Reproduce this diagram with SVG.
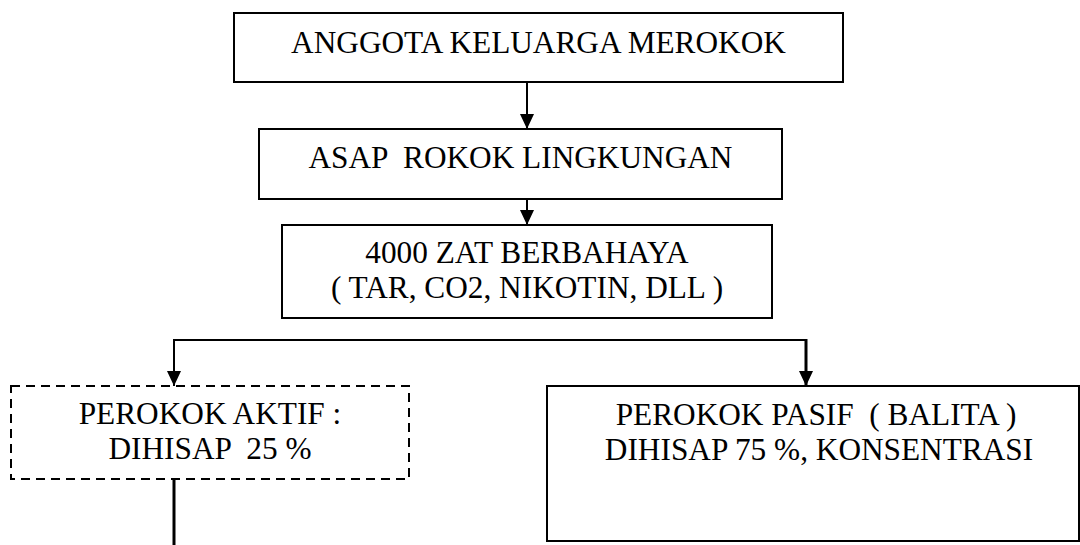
<svg xmlns="http://www.w3.org/2000/svg" width="1080" height="545" viewBox="0 0 1080 545">
<style>
.box{fill:#fff;stroke:#000;stroke-width:2}
.dash{fill:#fff;stroke:#000;stroke-width:2;stroke-dasharray:9,6}
.t{font-family:"Liberation Serif","Times New Roman",serif;font-size:31.3px;fill:#000;text-anchor:middle;white-space:pre}
.ln{fill:none;stroke:#000;stroke-width:2}
.lnb{fill:none;stroke:#000;stroke-width:3}
</style>
<defs>
<marker id="ah" markerUnits="userSpaceOnUse" markerWidth="16" markerHeight="16" viewBox="0 0 16 16" refX="15" refY="8" orient="auto">
<path d="M0,1 L15,8 L0,15 Z" fill="#000"/>
</marker>
</defs>
<rect width="1080" height="545" fill="#fff"/>
<g id="connectors">
<line class="ln" x1="527" y1="82" x2="527" y2="129" marker-end="url(#ah)"/>
<line class="ln" x1="527" y1="199" x2="527" y2="225" marker-end="url(#ah)"/>
<polyline class="ln" points="806,340 174,340 174,386" marker-end="url(#ah)"/>
<line class="lnb" x1="806" y1="339" x2="806" y2="386" marker-end="url(#ah)"/>
<line class="lnb" x1="174" y1="479" x2="174" y2="545"/>
</g>
<g id="n1">
<rect class="box" x="234" y="13" width="609" height="69"/>
<text class="t" x="538.5" y="53">ANGGOTA KELUARGA MEROKOK</text>
</g>
<g id="n2">
<rect class="box" x="259" y="129" width="523" height="70"/>
<text class="t" x="520.5" y="168">ASAP  ROKOK LINGKUNGAN</text>
</g>
<g id="n3">
<rect class="box" x="282" y="225" width="490" height="93"/>
<text class="t" x="527" y="263">4000 ZAT BERBAHAYA</text>
<text class="t" x="527" y="298">( TAR, CO2, NIKOTIN, DLL )</text>
</g>
<g id="n4">
<rect class="dash" x="11" y="386" width="398" height="93"/>
<text class="t" x="210" y="424">PEROKOK AKTIF :</text>
<text class="t" x="210" y="459">DIHISAP  25 %</text>
</g>
<g id="n5">
<rect class="box" x="547" y="386" width="532" height="155"/>
<text class="t" x="816" y="425">PEROKOK PASIF  ( BALITA )</text>
<text class="t" x="819" y="460">DIHISAP 75 %, KONSENTRASI</text>
</g>
</svg>
